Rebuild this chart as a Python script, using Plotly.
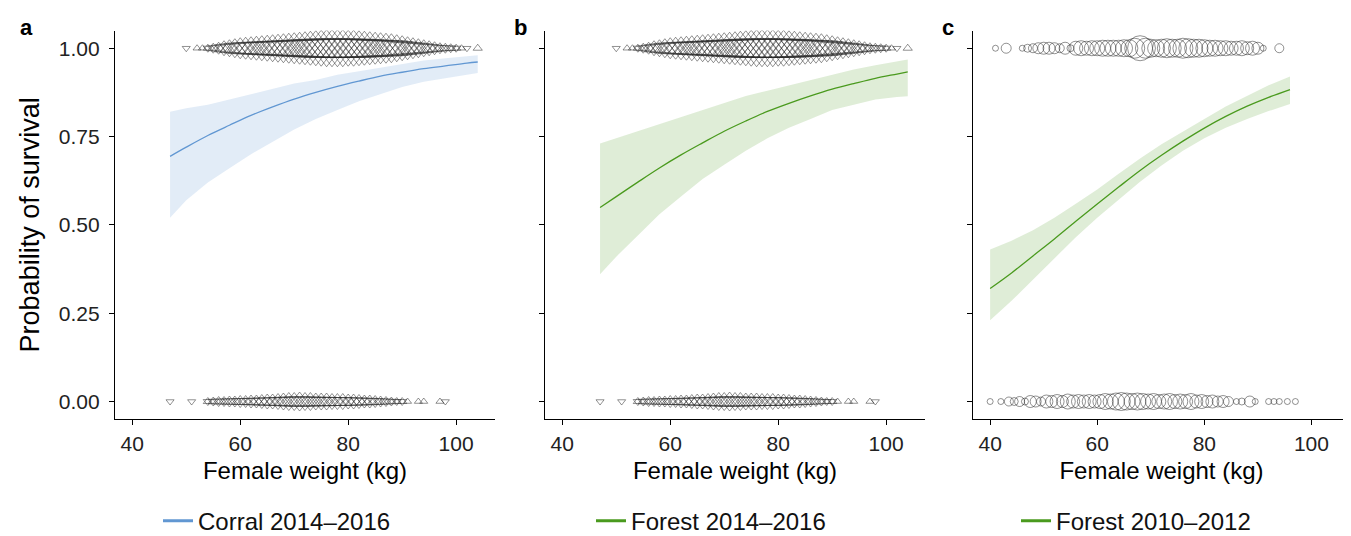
import plotly.graph_objects as go

# ---------------- data ----------------
# fitted curves (Female weight kg -> probability of survival)
a_x = [47, 50, 54, 58, 62, 66, 70, 74, 78, 82, 86, 90, 94, 98, 102, 104]
a_fit = [0.694, 0.720, 0.753, 0.782, 0.810, 0.834, 0.856, 0.875, 0.892, 0.907, 0.921, 0.932, 0.942, 0.950, 0.958, 0.961]
a_lo = [0.52, 0.57, 0.62, 0.66, 0.70, 0.735, 0.77, 0.80, 0.825, 0.85, 0.87, 0.89, 0.905, 0.915, 0.925, 0.93]
a_hi = [0.82, 0.83, 0.84, 0.855, 0.87, 0.885, 0.90, 0.91, 0.925, 0.935, 0.945, 0.955, 0.965, 0.972, 0.978, 0.98]

b_x = [47, 50, 54, 58, 62, 66, 70, 74, 78, 82, 86, 90, 94, 98, 102, 104]
b_fit = [0.549, 0.580, 0.621, 0.661, 0.698, 0.732, 0.765, 0.794, 0.821, 0.844, 0.865, 0.884, 0.900, 0.915, 0.927, 0.933]
b_lo = [0.36, 0.41, 0.47, 0.53, 0.58, 0.63, 0.67, 0.71, 0.745, 0.775, 0.80, 0.825, 0.84, 0.855, 0.862, 0.864]
b_hi = [0.73, 0.745, 0.765, 0.785, 0.805, 0.825, 0.845, 0.865, 0.88, 0.895, 0.91, 0.925, 0.94, 0.952, 0.963, 0.968]

c_x = [40, 44, 48, 52, 56, 60, 64, 68, 72, 76, 80, 84, 88, 92, 96]
c_fit = [0.320, 0.364, 0.412, 0.460, 0.510, 0.559, 0.607, 0.654, 0.697, 0.737, 0.774, 0.807, 0.836, 0.861, 0.883]
c_lo = [0.23, 0.285, 0.345, 0.405, 0.465, 0.52, 0.572, 0.622, 0.668, 0.71, 0.745, 0.775, 0.80, 0.822, 0.842]
c_hi = [0.43, 0.455, 0.485, 0.52, 0.56, 0.60, 0.645, 0.688, 0.728, 0.765, 0.80, 0.835, 0.865, 0.895, 0.92]

# observed individuals, panels a and b (triangles; size ~ number of females)
top_up_w = [52, 53, 54, 55, 56, 57, 58, 59, 60, 61, 62, 63, 64, 65, 66, 67, 68, 69, 70, 71,
            72, 73, 74, 75, 76, 77, 78, 79, 80, 81, 82, 83, 84, 85, 86, 87, 88, 89, 90, 91,
            92, 93, 94, 95, 96, 97, 98, 99, 100, 101, 104]
top_up_s = [7, 7, 8, 10, 12, 15, 17, 19, 21, 22, 23, 24, 25, 26, 27, 28, 29, 30, 31, 32,
            33, 34, 35, 36, 37, 37, 37, 37, 36, 36, 35, 34, 33, 32, 31, 30, 29, 27, 25, 23,
            21, 19, 17, 15, 13, 11, 10, 9, 8, 7, 8]
top_dn_w = [50, 54, 55, 56, 57, 58, 59, 60, 61, 62, 63, 64, 65, 66, 67, 68, 69, 70, 71, 72,
            73, 74, 75, 76, 77, 78, 79, 80, 81, 82, 83, 84, 85, 86, 87, 88, 89, 90, 91, 92,
            93, 94, 95, 96, 97, 98, 99, 100, 102]
top_dn_s = [7, 8, 10, 12, 15, 17, 19, 21, 22, 23, 24, 25, 26, 27, 28, 29, 30, 31, 32, 33,
            34, 35, 36, 37, 37, 37, 37, 36, 36, 35, 34, 33, 32, 31, 30, 29, 27, 25, 23, 21,
            19, 17, 15, 13, 11, 10, 9, 8, 7]
bot_up_w = [54, 55, 56, 57, 58, 59, 60, 61, 62, 63, 64, 65, 66, 67, 68, 69, 70, 71, 72, 73,
            74, 75, 76, 77, 78, 79, 80, 81, 82, 83, 84, 85, 86, 87, 88, 89, 90, 91, 93, 94, 97]
bot_up_s = [8, 9, 10, 10, 11, 11, 12, 12, 13, 13, 14, 15, 15, 16, 17, 18, 18, 19, 18, 18,
            17, 17, 17, 16, 16, 16, 15, 15, 14, 13, 13, 12, 11, 10, 9, 8, 8, 7, 7, 7, 7]
bot_dn_w = [47, 51, 54, 55, 56, 57, 58, 59, 60, 61, 62, 63, 64, 65, 66, 67, 68, 69, 70, 71,
            72, 73, 74, 75, 76, 77, 78, 79, 80, 81, 82, 83, 84, 85, 86, 87, 88, 89, 90, 98]
bot_dn_s = [7, 7, 8, 9, 10, 10, 11, 11, 12, 12, 13, 13, 14, 15, 15, 16, 17, 18, 18, 19,
            18, 18, 17, 17, 17, 16, 16, 16, 15, 15, 14, 13, 13, 12, 11, 10, 9, 8, 8, 7]

# observed individuals, panel c (circles)
ctop_w = [41, 43, 46, 47, 48, 49, 50, 51, 52, 53, 54, 55, 56, 57, 58, 59, 60, 61, 62, 63,
          64, 65, 66, 67, 68, 69, 70, 71, 72, 73, 74, 75, 76, 77, 78, 79, 80, 81, 82, 83,
          84, 85, 86, 87, 88, 89, 90, 91, 94]
ctop_s = [6, 10, 6, 8, 9, 11, 12, 12, 11, 9, 12, 7, 14, 15, 14, 15, 15, 16, 16, 16,
          16, 17, 17, 20, 25, 20, 18, 17, 18, 19, 18, 18, 20, 19, 18, 18, 17, 16, 16, 15,
          15, 14, 14, 15, 13, 14, 12, 6, 9]
cbot_w = [40, 42, 43.5, 44.5, 45.5, 46.5, 47.5, 48.5, 49.5, 50.5, 51.5, 52.5, 53.5, 54.5,
          55.5, 56.5, 57.5, 58.5, 59.5, 60.5, 61.5, 62.5, 63.5, 64.5, 65.5, 66.5, 67.5, 68.5,
          69.5, 70.5, 71.5, 72.5, 73.5, 74.5, 75.5, 76.5, 77.5, 78.5, 79.5, 80.5, 81.5, 82.5,
          83.5, 84.5, 86, 87, 88.5, 89.5, 92, 93, 94, 95.5, 97]
cbot_s = [6, 6, 9, 8, 10, 7, 12, 11, 9, 13, 12, 14, 12, 15, 13, 14, 13, 14, 13, 14, 16, 15,
          17, 18, 17, 16, 17, 16, 15, 16, 14, 15, 16, 14, 15, 14, 16, 13, 14, 12, 13, 11,
          12, 10, 6, 7, 11, 6, 6, 6, 6, 6, 6]

series_names = ["Corral 2014\u20132016", "Forest 2014\u20132016", "Forest 2010\u20132012"]
panel_letters = ["a", "b", "c"]
x_ticks = [40, 60, 80, 100]
y_ticks = [0, 0.25, 0.5, 0.75, 1.0]
y_ticklabels = ["0.00", "0.25", "0.50", "0.75", "1.00"]

# ---------------- style ----------------
W, H = 1351, 536
FONT = "Liberation Sans, Arial, sans-serif"
BLUE, BLUE_FILL = "#6197D2", "rgba(95,151,211,0.18)"
GREEN, GREEN_FILL = "#4A9A1E", "rgba(95,165,55,0.20)"
PT = "rgba(40,40,40,0.72)"

dom_x = [(107 / W, 487 / W), (537 / W, 917 / W), (965 / W, 1342 / W)]
dom_y = (1 - 419 / H, 1 - 23 / H)

fig = go.Figure()

curves = [(a_x, a_fit, a_lo, a_hi, BLUE, BLUE_FILL),
          (b_x, b_fit, b_lo, b_hi, GREEN, GREEN_FILL),
          (c_x, c_fit, c_lo, c_hi, GREEN, GREEN_FILL)]
legend_ids = ["legend", "legend2", "legend3"]

for i, (xs, fit, lo, hi, col, fill) in enumerate(curves):
    xa = "x" if i == 0 else f"x{i+1}"
    ya = "y" if i == 0 else f"y{i+1}"
    fig.add_trace(go.Scatter(
        x=list(xs) + list(xs)[::-1], y=list(hi) + list(lo)[::-1],
        fill="toself", fillcolor=fill, line=dict(width=0),
        mode="lines", hoverinfo="skip", showlegend=False, xaxis=xa, yaxis=ya))
    fig.add_trace(go.Scatter(
        x=xs, y=fit, mode="lines", line=dict(color=col, width=1.3, shape="spline"),
        name=series_names[i], showlegend=False, xaxis=xa, yaxis=ya))
    # legend key (thicker line, as in the reference legend)
    fig.add_trace(go.Scatter(
        x=[None], y=[None], mode="lines", line=dict(color=col, width=3),
        name=series_names[i], legend=legend_ids[i], showlegend=True,
        xaxis=xa, yaxis=ya))

    if i < 2:
        for wts, szs, yv, sym in [(top_up_w, top_up_s, 1, "triangle-up-open"),
                                  (top_dn_w, top_dn_s, 1, "triangle-down-open"),
                                  (bot_up_w, bot_up_s, 0, "triangle-up-open"),
                                  (bot_dn_w, bot_dn_s, 0, "triangle-down-open")]:
            fig.add_trace(go.Scatter(
                x=wts, y=[yv] * len(wts), mode="markers",
                marker=dict(symbol=sym, size=szs, color=PT, line=dict(width=1.0, color=PT)),
                showlegend=False, xaxis=xa, yaxis=ya))
    else:
        for wts, szs, yv in [(ctop_w, ctop_s, 1), (cbot_w, cbot_s, 0)]:
            fig.add_trace(go.Scatter(
                x=wts, y=[yv] * len(wts), mode="markers",
                marker=dict(symbol="circle-open", size=szs, color=PT, line=dict(width=1.0, color=PT)),
                showlegend=False, xaxis=xa, yaxis=ya))

axis_common = dict(showline=True, linecolor="black", linewidth=1.4, showgrid=False,
                   zeroline=False, ticks="outside", ticklen=5, tickwidth=1.2,
                   tickcolor="black", tickfont=dict(family=FONT, size=21, color="#222222"))

layout = dict(width=W, height=H, margin=dict(l=0, r=0, t=0, b=0),
              paper_bgcolor="white", plot_bgcolor="white",
              font=dict(family=FONT, color="black"))

for i in range(3):
    xk = "xaxis" if i == 0 else f"xaxis{i+1}"
    yk = "yaxis" if i == 0 else f"yaxis{i+1}"
    layout[xk] = dict(axis_common, domain=list(dom_x[i]), range=[36.8, 107.2],
                      tickvals=x_ticks, anchor="y" if i == 0 else f"y{i+1}",
                      title=dict(text="Female weight (kg)", font=dict(family=FONT, size=24),
                                 standoff=8))
    layout[yk] = dict(axis_common, domain=list(dom_y), range=[-0.05, 1.05],
                      tickvals=y_ticks, ticktext=y_ticklabels, ticklabelstandoff=5,
                      showticklabels=(i == 0), anchor="x" if i == 0 else f"x{i+1}")
    if i == 0:
        layout[yk]["title"] = dict(text="Probability of survival",
                                   font=dict(family=FONT, size=27), standoff=11)

legend_x = [150 / W, 583 / W, 1008 / W]
for i, lid in enumerate(legend_ids):
    layout[lid] = dict(x=legend_x[i], y=1 - 523 / H, xanchor="left", yanchor="middle",
                       orientation="h", font=dict(family=FONT, size=24, color="#111111"),
                       bgcolor="rgba(0,0,0,0)")

fig.update_layout(**layout)

letter_x = [18, 512, 940]
for i, L in enumerate(panel_letters):
    fig.add_annotation(text=f"<b>{L}</b>", x=letter_x[i] / W, y=1 - 20 / H,
                       xref="paper", yref="paper", showarrow=False,
                       font=dict(family=FONT, size=22, color="black"),
                       xanchor="center", yanchor="middle")

fig.write_html("out.html")
